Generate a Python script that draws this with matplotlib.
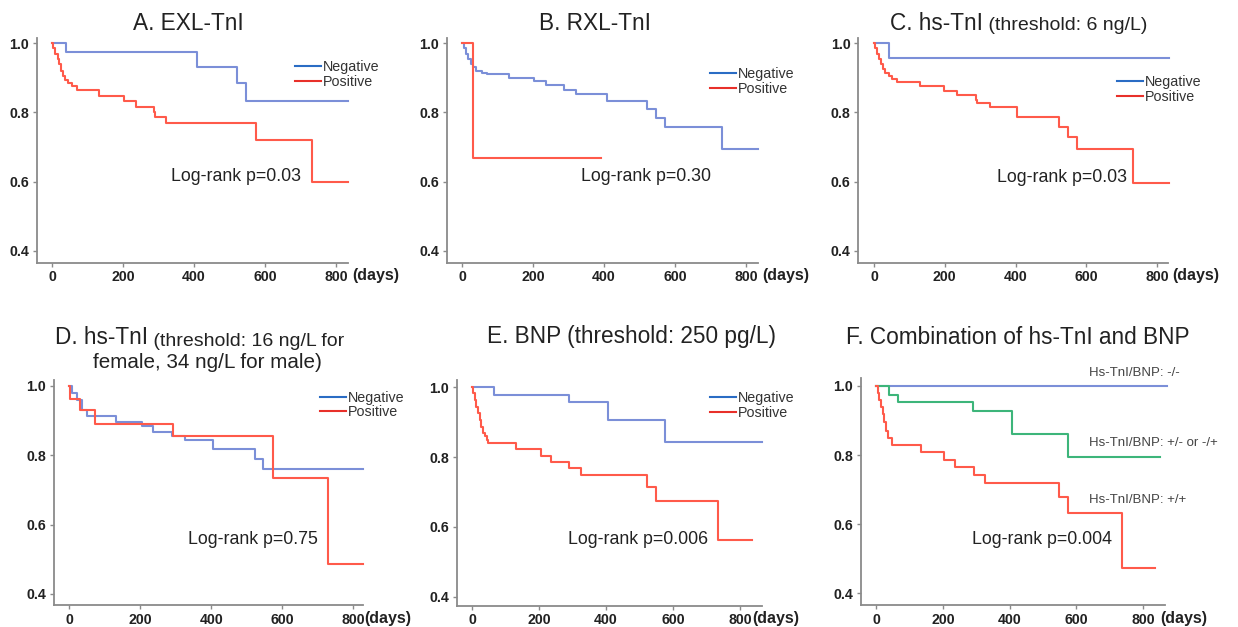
import matplotlib
matplotlib.use('Agg')
from matplotlib import pyplot as plt
from matplotlib.lines import Line2D

plt.rcParams['font.family'] = ['Liberation Sans', 'DejaVu Sans']

# Kaplan-Meier step data: time (days) where each step starts, survival after it
A_neg_t = [0, 40, 407, 522, 546, 835]
A_neg_s = [1.0, 0.974, 0.932, 0.884, 0.833, 0.833]
A_pos_t = [0, 3, 9, 15, 20, 25, 30, 35, 45, 55, 69, 133, 202, 236, 287, 291, 322, 574, 733, 835]
A_pos_s = [1.0, 0.985, 0.97, 0.955, 0.94, 0.92, 0.905, 0.893, 0.885, 0.875, 0.865, 0.848,
           0.834, 0.817, 0.80, 0.788, 0.768, 0.72, 0.60, 0.60]

B_neg_t = [0, 5, 10, 15, 25, 30, 40, 55, 69, 133, 202, 236, 287, 322, 407, 522, 546, 571, 733, 835]
B_neg_s = [1.0, 0.985, 0.97, 0.955, 0.94, 0.93, 0.92, 0.915, 0.91, 0.90, 0.89, 0.88, 0.865,
           0.852, 0.833, 0.81, 0.785, 0.758, 0.695, 0.695]
B_pos_t = [0, 31, 391]
B_pos_s = [1.0, 0.667, 0.667]

C_neg_t = [0, 41, 835]
C_neg_s = [1.0, 0.957, 0.957]
C_pos_t = [0, 3, 8, 14, 20, 26, 32, 41, 50, 66, 130, 199, 234, 287, 291, 329, 405, 523, 547,
           573, 733, 835]
C_pos_s = [1.0, 0.985, 0.97, 0.955, 0.94, 0.925, 0.915, 0.905, 0.898, 0.889, 0.876, 0.863,
           0.85, 0.835, 0.828, 0.815, 0.786, 0.759, 0.73, 0.694, 0.595, 0.595]

D_neg_t = [0, 8, 21, 35, 49, 133, 204, 237, 288, 326, 406, 523, 546, 828]
D_neg_s = [1.0, 0.98, 0.96, 0.93, 0.912, 0.895, 0.883, 0.868, 0.855, 0.843, 0.818, 0.79, 0.76, 0.76]
D_pos_t = [0, 2, 30, 72, 293, 575, 730, 828]
D_pos_s = [1.0, 0.962, 0.93, 0.89, 0.855, 0.733, 0.487, 0.487]

E_neg_t = [0, 65, 288, 406, 576, 865]
E_neg_s = [1.0, 0.978, 0.957, 0.907, 0.843, 0.843]
E_pos_t = [0, 3, 7, 12, 17, 22, 27, 32, 38, 44, 48, 132, 205, 235, 290, 325, 522, 548, 735, 835]
E_pos_s = [1.0, 0.985, 0.965, 0.945, 0.925, 0.905, 0.885, 0.87, 0.86, 0.85, 0.84, 0.822,
           0.804, 0.787, 0.768, 0.749, 0.713, 0.674, 0.563, 0.563]

F_neg_t = [0, 870]
F_neg_s = [1.0, 1.0]
F_mid_t = [0, 40, 67, 289, 406, 576, 850]
F_mid_s = [1.0, 0.975, 0.952, 0.928, 0.862, 0.793, 0.793]
F_pos_t = [0, 5, 10, 15, 20, 25, 30, 36, 47, 134, 204, 237, 294, 327, 549, 576, 737, 836]
F_pos_s = [1.0, 0.98, 0.96, 0.94, 0.92, 0.895, 0.87, 0.85, 0.83, 0.808, 0.787, 0.765, 0.742,
           0.72, 0.678, 0.633, 0.473, 0.473]

group_labels = ['Negative', 'Positive']
f_labels = ['Hs-TnI/BNP: -/-', 'Hs-TnI/BNP: +/- or -/+', 'Hs-TnI/BNP: +/+']
f_label_y = [1.037, 0.834, 0.67]
p_values = ['Log-rank p=0.03', 'Log-rank p=0.30', 'Log-rank p=0.03',
            'Log-rank p=0.75', 'Log-rank p=0.006', 'Log-rank p=0.004']

BLUE = '#7b8fd8'
RED = '#ff5a4a'
GREEN = '#3db57a'
LEG_BLUE = '#2a6cc4'
LEG_RED = '#e8302a'
SPINE = '#8a8a8a'
TXT = '#222222'
BIG = 16.3
SMALL = 14
PSIZE = 12.8

W, H = 1238, 627
fig = plt.figure(figsize=(W / 100, H / 100), dpi=100)


def px_axes(x0, y0, x1, y1):
    # pixel box (top-left origin) -> figure axes
    return fig.add_axes([x0 / W, 1 - y1 / H, (x1 - x0) / W, (y1 - y0) / H])


def style_axes(ax, xlim, ylim, days_dx):
    ax.set_xlim(*xlim)
    ax.set_ylim(*ylim)
    for s in ['top', 'right']:
        ax.spines[s].set_visible(False)
    for s in ['left', 'bottom']:
        ax.spines[s].set_color(SPINE)
        ax.spines[s].set_linewidth(1.3)
    ax.set_xticks([0, 200, 400, 600, 800])
    ax.set_yticks([0.4, 0.6, 0.8, 1.0])
    ax.set_yticklabels(['0.4', '0.6', '0.8', '1.0'])
    ax.tick_params(length=3, width=1, color=SPINE, labelsize=10.2, labelcolor=TXT, pad=2.5)
    for lab in ax.get_xticklabels() + ax.get_yticklabels():
        lab.set_fontweight('bold')
    ax.annotate('(days)', xy=(1, 0), xycoords='axes fraction', xytext=(days_dx, -9.5),
                textcoords='offset points', ha='left', va='center', fontsize=11.5,
                fontweight='bold', color=TXT, annotation_clip=False)
    ax.patch.set_alpha(0)


def km(ax, t, s, color):
    ax.step(t, s, where='post', color=color, lw=1.5, clip_on=False)


def legend(ax, x, y):
    handles = [Line2D([], [], color=LEG_BLUE, lw=1.5), Line2D([], [], color=LEG_RED, lw=1.5)]
    leg = ax.legend(handles, group_labels, loc='center left', bbox_to_anchor=(x / W, 1 - y / H),
                    bbox_transform=fig.transFigure, frameon=False, fontsize=10.3,
                    handlelength=1.8, handletextpad=0.12, labelspacing=0.05,
                    borderpad=0, borderaxespad=0)
    for t in leg.get_texts():
        t.set_color('#333333')


def title_parts(x, y, big, small):
    t1 = fig.text(x / W, 1 - y / H, big, fontsize=BIG, color=TXT, va='center', ha='left')
    fig.axes[0].annotate(small, xy=(1, 0), xycoords=t1, ha='left', va='bottom',
                         fontsize=SMALL, color=TXT)


# ---- top row ----
axA = px_axes(36.7, 38.3, 348, 262.7)
style_axes(axA, (-44, 834), (0.365, 1.0145), 3)
km(axA, A_neg_t, A_neg_s, BLUE)
km(axA, A_pos_t, A_pos_s, RED)
legend(axA, 295, 74.5)
axA.text(336, 0.614, p_values[0], fontsize=PSIZE, color=TXT, va='center')

axB = px_axes(446.7, 38.3, 758, 262.7)
style_axes(axB, (-44, 834), (0.365, 1.0145), 3)
km(axB, B_neg_t, B_neg_s, BLUE)
km(axB, B_pos_t, B_pos_s, RED)
legend(axB, 710, 81.3)
axB.text(336, 0.614, p_values[1], fontsize=PSIZE, color=TXT, va='center')

axC = px_axes(858.3, 38.3, 1168, 262.7)
style_axes(axC, (-44.5, 831), (0.365, 1.0145), 3)
km(axC, C_neg_t, C_neg_s, BLUE)
km(axC, C_pos_t, C_pos_s, RED)
legend(axC, 1117, 89.7)
axC.text(348, 0.611, p_values[2], fontsize=PSIZE, color=TXT, va='center')

# ---- bottom row ----
axD = px_axes(54, 380, 363.3, 605)
style_axes(axD, (-43, 828), (0.368, 1.017), 1)
km(axD, D_neg_t, D_neg_s, BLUE)
km(axD, D_pos_t, D_pos_s, RED)
legend(axD, 320, 405)
axD.text(335, 0.556, p_values[3], fontsize=PSIZE, color=TXT, va='center')

axE = px_axes(456.7, 380, 761.7, 605.7)
style_axes(axE, (-46.6, 865), (0.374, 1.021), -6.5)
km(axE, E_neg_t, E_neg_s, BLUE)
km(axE, E_pos_t, E_pos_s, RED)
legend(axE, 710, 405.8)
axE.text(285, 0.563, p_values[4], fontsize=PSIZE, color=TXT, va='center')

axF = px_axes(861, 378.3, 1165, 605)
style_axes(axF, (-45, 865), (0.366, 1.022), -3.5)
km(axF, F_neg_t, F_neg_s, BLUE)
km(axF, F_mid_t, F_mid_s, GREEN)
km(axF, F_pos_t, F_pos_s, RED)
for lab, yv in zip(f_labels, f_label_y):
    axF.text(637, yv, lab, fontsize=9.5, color='#444444', va='center', clip_on=False)
axF.text(287, 0.555, p_values[5], fontsize=PSIZE, color=TXT, va='center')

# ---- titles ----
fig.text(188 / W, 1 - 23 / H, 'A. EXL-TnI', fontsize=BIG, color=TXT, ha='center', va='center')
fig.text(595 / W, 1 - 23 / H, 'B. RXL-TnI', fontsize=BIG, color=TXT, ha='center', va='center')
title_parts(890, 23, 'C. hs-TnI', ' (threshold: 6 ng/L)')
title_parts(55, 338, 'D. hs-TnI', ' (threshold: 16 ng/L for')
fig.text(207 / W, 1 - 363 / H, 'female, 34 ng/L for male)', fontsize=14.9, color=TXT,
         ha='center', va='center')
fig.text(631 / W, 1 - 337 / H, 'E. BNP (threshold: 250 pg/L)', fontsize=BIG, color=TXT,
         ha='center', va='center')
fig.text(1018 / W, 1 - 337 / H, 'F. Combination of hs-TnI and BNP', fontsize=BIG, color=TXT,
         ha='center', va='center')

fig.savefig('out.png', dpi=100, facecolor='white')
